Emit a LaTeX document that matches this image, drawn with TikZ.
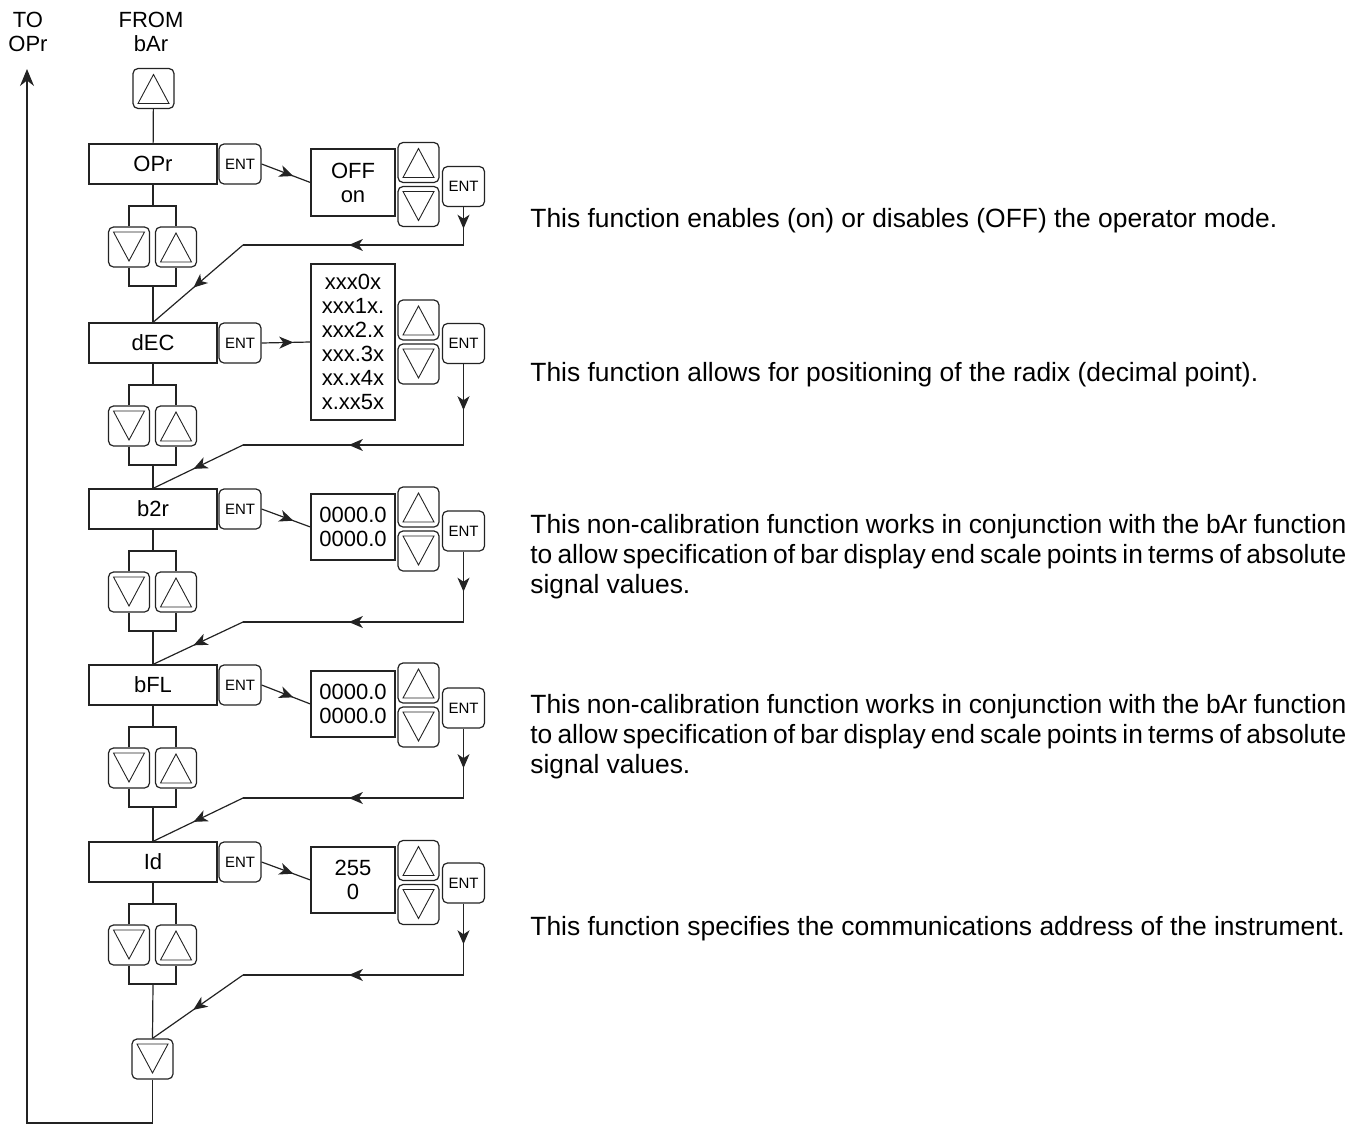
\documentclass[tikz,border=0pt]{standalone}
\usepackage{fontspec}
\setmainfont{Liberation Sans}
\usetikzlibrary{arrows.meta,calc,decorations.markings}
\definecolor{ln}{RGB}{35,35,35}

\tikzset{
  fnbox/.style={draw=ln,line width=0.6pt,minimum width=64pt,minimum height=20pt,
    inner sep=0pt,font=\fontsize{11}{12}\selectfont},
  valbox/.style={draw=ln,line width=0.6pt,minimum width=42pt,inner sep=0pt,
    align=center,font=\fontsize{11}{12}\selectfont},
  key/.style={draw=ln,line width=0.6pt,rounded corners=2.5pt,
    minimum width=20.5pt,minimum height=20pt,inner sep=0pt},
  entkey/.style={key,minimum width=21pt,font=\fontsize{7.5}{8}\selectfont},
  upkey/.style={key,path picture={\draw[sharp corners,line width=0.45pt]
      ($(path picture bounding box.north)+(0pt,-3pt)$) --
      ($(path picture bounding box.south west)+(2.5pt,2.5pt)$) --
      ($(path picture bounding box.south east)+(-2.5pt,2.5pt)$) -- cycle;}},
  dnkey/.style={key,path picture={\draw[sharp corners,line width=0.45pt]
      ($(path picture bounding box.south)+(0pt,3pt)$) --
      ($(path picture bounding box.north west)+(2.5pt,-2.5pt)$) --
      ($(path picture bounding box.north east)+(-2.5pt,-2.5pt)$) -- cycle;}},
  wire/.style={draw=ln,line width=0.6pt},
  midarrow/.style={postaction={decorate},decoration={markings,
      mark=at position #1 with {\arrow{Stealth[length=7pt,width=6pt,inset=2pt]}}}},
  midarrow/.default=0.57,
  note/.style={anchor=west,inner sep=0pt,text width=408pt,align=justify,
    font=\fontsize{13.2}{15}\selectfont}
}

\begin{document}
\begin{tikzpicture}[x=0.5pt,y=-0.5pt]
  \useasboundingbox (0,0) rectangle (1367,1125);

  \node[align=center,font=\fontsize{11}{12}\selectfont] (to) at (28,32) {TO\\OPr};
  \node[align=center,font=\fontsize{11}{12}\selectfont] (from) at (151,32) {FROM\\bAr};
  \node[upkey] (entry) at (153.5,88.5) {};

  \foreach \n/\y/\lab/\val/\vy/\vh/\uy/\ey/\ry in {
    1/164/OPr/{OFF\\on}/182.5/33.5/162.5/186.5/245,
    2/343/dEC/{xxx0x\\xxx1x.\\xxx2.x\\xxx.3x\\xx.x4x\\x.xx5x}/342/78/320/343.5/445,
    3/509/b2r/{0000.0\\0000.0}/527/33/507/531/622,
    4/685/bFL/{0000.0\\0000.0}/704/33/683/708/798,
    5/862/Id/{255\\0}/880/33/860.5/883/975}{
    \node[fnbox] (fn\n) at (153,\y) {\lab};
    \node[entkey] (ent\n) at (240,\y) {ENT};
    \node[valbox,minimum height=\vh*1pt] (val\n) at (353,\vy) {\val};
    \node[upkey] (vup\n) at (418.5,\uy) {};
    \node[dnkey] (vdn\n) at (418.5,\uy+44) {};
    \node[entkey] (ok\n) at (463.5,\ey) {ENT};
    \node[dnkey] (dn\n) at (129,\y+83) {};
    \node[upkey] (up\n) at (176,\y+83) {};
    \coordinate (bt\n) at (153,\y+42);
    \coordinate (bb\n) at (153,\y+122);
    \coordinate (ra\n) at (463.5,\ry);
    \coordinate (rb\n) at (243,\ry);
    \draw[wire] (fn\n) -- (bt\n);
    \draw[wire] (dn\n.north) |- (bt\n) -| (up\n.north);
    \draw[wire] (dn\n.south) |- (bb\n) -| (up\n.south);
    \draw[wire,midarrow=0.65] (ent\n.east) -- (val\n.west);
    \draw[wire,midarrow] (ok\n.south) -- (ra\n);
    \draw[wire,midarrow=0.52] (ra\n) -- (rb\n);
  }

  \node[dnkey] (exitdn) at (152.5,1059) {};

  \foreach \n/\nxt in {1/fn2,2/fn3,3/fn4,4/fn5,5/exitdn}{
    \draw[wire] (bb\n) -- (\nxt.north);
    \draw[wire,midarrow=0.55] (rb\n) -- (\nxt.north);
  }

  \draw[wire] (entry) -- (fn1);
  \coordinate (lpb) at (152.5,1123);
  \coordinate (lpt) at (27,69);
  \draw[wire,-{Stealth[length=8.5pt,width=7pt]}] (exitdn) -- (lpb) -| (lpt);

  \node[note] (d1) at (530,221)
    {This function enables (on) or disables (OFF) the operator mode.};
  \node[note] (d2) at (530,375)
    {This function allows for positioning of the radix (decimal point).};
  \node[note] (d3) at (530,557)
    {This non-calibration function works in conjunction with the bAr function\linebreak
     to allow specification of bar display end scale points in terms of absolute\linebreak
     signal values.};
  \node[note] (d4) at (530,737)
    {This non-calibration function works in conjunction with the bAr function\linebreak
     to allow specification of bar display end scale points in terms of absolute\linebreak
     signal values.};
  \node[note] (d5) at (530,929)
    {This function specifies the communications address of the instrument.};
\end{tikzpicture}
\end{document}
